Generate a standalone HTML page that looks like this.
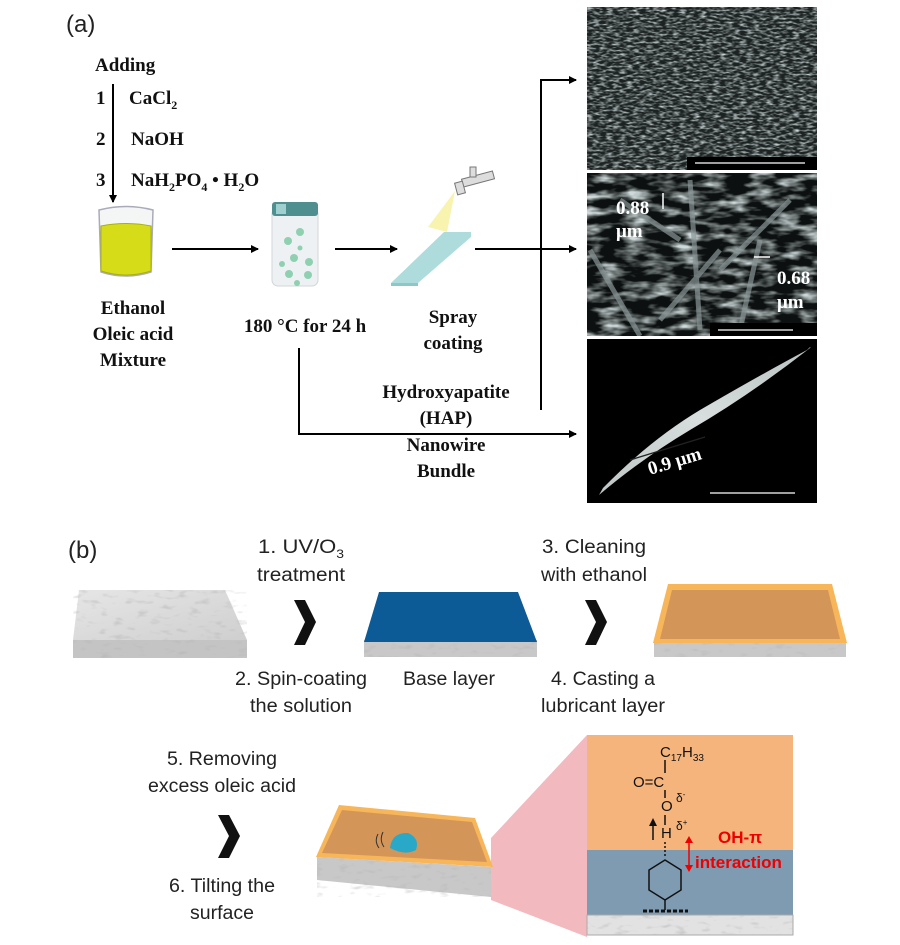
<!DOCTYPE html>
<html><head><meta charset="utf-8"><style>
html,body{margin:0;padding:0;background:#fff}
svg{display:block}
.s{font-family:"Liberation Serif",serif;font-weight:bold;font-size:19px;fill:#111}
.a{font-family:"Liberation Sans",sans-serif;font-size:19px;fill:#222}
</style></head><body>
<svg width="900" height="945" viewBox="0 0 900 945" xmlns="http://www.w3.org/2000/svg">
<defs>
<marker id="ah" markerWidth="8" markerHeight="8" refX="7" refY="4" orient="auto" markerUnits="userSpaceOnUse"><path d="M0,0 L8,4 L0,8 z" fill="#000"/></marker>
<filter id="noise" x="0" y="0" width="100%" height="100%"><feTurbulence type="fractalNoise" baseFrequency="0.15 0.5" numOctaves="2" seed="3"/><feColorMatrix type="matrix" values="0 0 0 0 0.6  0 0 0 0 0.68  0 0 0 0 0.68  0 0 0 2.2 -0.9"/></filter>
<filter id="noise2" x="0" y="0" width="100%" height="100%"><feTurbulence type="fractalNoise" baseFrequency="0.04 0.12" numOctaves="3" seed="7"/><feColorMatrix type="matrix" values="0 0 0 0 0.62  0 0 0 0 0.7  0 0 0 0 0.7  0 0 0 2.4 -1.0"/></filter>
<filter id="marb" x="0" y="0" width="100%" height="100%"><feTurbulence type="fractalNoise" baseFrequency="0.08 0.2" numOctaves="2" seed="5"/><feColorMatrix type="matrix" values="0 0 0 0 0.45  0 0 0 0 0.45  0 0 0 0 0.45  0 0 0 1.6 -0.9"/></filter>
<linearGradient id="mg" x1="0" y1="0" x2="1" y2="1"><stop offset="0" stop-color="#e6e6e6"/><stop offset="1" stop-color="#cfcfcf"/></linearGradient>
<linearGradient id="hapg" x1="0" y1="1" x2="1" y2="0"><stop offset="0" stop-color="#bfc6c6"/><stop offset=".5" stop-color="#d8dede"/><stop offset="1" stop-color="#b9c2c2"/></linearGradient>
<clipPath id="c1"><rect x="587" y="7" width="230" height="163"/></clipPath>
<clipPath id="c2"><rect x="587" y="173" width="230" height="163"/></clipPath>
</defs>

<!-- (a) -->
<text x="66" y="32" font-family="Liberation Sans,sans-serif" font-size="24" fill="#222">(a)</text>
<text class="s" x="95" y="71">Adding</text>
<line x1="113" y1="84" x2="113" y2="202" stroke="#000" stroke-width="2" marker-end="url(#ah)"/>
<text class="s" x="96" y="104">1</text><text class="s" x="129" y="104">CaCl<tspan font-size="12" dy="5">2</tspan></text>
<text class="s" x="96" y="145">2</text><text class="s" x="131" y="145">NaOH</text>
<text class="s" x="96" y="186">3</text><text class="s" x="131" y="186">NaH<tspan font-size="12" dy="5">2</tspan><tspan dy="-5">PO</tspan><tspan font-size="12" dy="5">4</tspan><tspan dy="-5"> • H</tspan><tspan font-size="12" dy="5">2</tspan><tspan dy="-5">O</tspan></text>

<!-- beaker -->
<path d="M99,210 Q126,203 153,210 L151,272 Q126,280 101,272 Z" fill="#f4f6f6" stroke="#aab" stroke-width="1.5"/>
<path d="M101,226 Q126,221 151,226 L151,271 Q126,279 101,271 Z" fill="#d6dc18" stroke="#a8b010"/>
<!-- bottle -->
<rect x="272" y="208" width="46" height="78" rx="6" fill="#eef1f3" stroke="#d0d6d8"/>
<rect x="272" y="202" width="46" height="14" rx="3" fill="#4f8f8f"/>
<rect x="276" y="204" width="10" height="10" fill="#9fd0d0"/>
<g fill="#8fd0b0"><circle cx="300" cy="232" r="4"/><circle cx="288" cy="241" r="4"/><circle cx="300" cy="248" r="2.5"/><circle cx="294" cy="258" r="4"/><circle cx="309" cy="262" r="4"/><circle cx="282" cy="264" r="3"/><circle cx="289" cy="274" r="4"/><circle cx="308" cy="275" r="4"/><circle cx="297" cy="283" r="3"/></g>
<!-- arrows row -->
<line x1="172" y1="249" x2="258" y2="249" stroke="#000" stroke-width="2" marker-end="url(#ah)"/>
<line x1="335" y1="249" x2="397" y2="249" stroke="#000" stroke-width="2" marker-end="url(#ah)"/>
<!-- spray + slide -->
<path d="M455,191 L428,227 L447,232 Z" fill="#f7f1a0" opacity=".85"/>
<g stroke="#777" fill="#ddd"><rect x="462" y="175" width="32" height="8" transform="rotate(-15 478 179)"/><rect x="456" y="182" width="8" height="12" transform="rotate(-15 460 188)"/><rect x="470" y="167" width="6" height="10"/></g>
<polygon points="391,283 418,283 471,237 471,232 444,232" fill="#aedcdc"/>
<polygon points="391,283 418,283 418,286 391,286" fill="#8cc8c8"/>
<line x1="475" y1="249" x2="576" y2="249" stroke="#000" stroke-width="2" marker-end="url(#ah)"/>
<polyline points="541,410 541,80 576,80" fill="none" stroke="#000" stroke-width="2" marker-end="url(#ah)"/>
<polyline points="299,348 299,434 576,434" fill="none" stroke="#000" stroke-width="2" marker-end="url(#ah)"/>

<g class="s" text-anchor="middle">
<text x="133" y="314">Ethanol</text><text x="133" y="340">Oleic acid</text><text x="133" y="366">Mixture</text>
<text x="305" y="332">180 °C for 24 h</text>
<text x="453" y="323">Spray</text><text x="453" y="349">coating</text>
<text x="446" y="398">Hydroxyapatite</text><text x="446" y="424">(HAP)</text><text x="446" y="451">Nanowire</text><text x="446" y="477">Bundle</text>
</g>

<!-- SEM 1 -->
<rect x="587" y="7" width="230" height="163" fill="#1c2222"/>
<rect x="587" y="7" width="230" height="163" filter="url(#noise)" clip-path="url(#c1)"/>
<rect x="687" y="157" width="130" height="13" fill="#000"/>
<line x1="695" y1="163" x2="805" y2="163" stroke="#fff" stroke-width="1.2"/>
<!-- SEM 2 -->
<rect x="587" y="173" width="230" height="163" fill="#0c1010"/>
<rect x="587" y="173" width="230" height="163" filter="url(#noise2)" clip-path="url(#c2)"/>
<g stroke="#8a9696" stroke-width="5" opacity=".7" clip-path="url(#c2)">
<line x1="590" y1="250" x2="640" y2="336"/><line x1="690" y1="180" x2="700" y2="330"/><line x1="660" y1="320" x2="720" y2="250"/><line x1="720" y1="270" x2="790" y2="200"/><line x1="740" y1="330" x2="760" y2="240"/><line x1="620" y1="200" x2="680" y2="240"/>
</g>
<rect x="710" y="323" width="107" height="13" fill="#000"/>
<line x1="718" y1="330" x2="793" y2="330" stroke="#fff" stroke-width="1.2"/>
<g class="s" fill="#fff" style="fill:#fff"><text x="616" y="214">0.88</text><text x="616" y="237">μm</text><text x="777" y="284">0.68</text><text x="777" y="308">μm</text></g>
<g stroke="#fff" stroke-width="1.5"><line x1="663" y1="193" x2="663" y2="209"/><line x1="754" y1="257" x2="770" y2="257"/></g>
<!-- SEM 3 -->
<rect x="587" y="339" width="230" height="164" fill="#000"/>
<path d="M599,495 Q640,460 690,430 Q750,395 810,348 Q812,345 807,350 Q760,375 700,410 Q650,440 603,488 Z" fill="url(#hapg)"/>
<line x1="630" y1="460" x2="705" y2="437" stroke="#222" stroke-width="1.3"/>
<text class="s" x="650" y="475" transform="rotate(-17 650 475)" style="fill:#fff">0.9 μm</text>
<line x1="710" y1="493" x2="795" y2="493" stroke="#fff" stroke-width="1.2"/>

<!-- (b) -->
<text x="68" y="558" font-family="Liberation Sans,sans-serif" font-size="24" fill="#222">(b)</text>
<g class="a" text-anchor="middle">
<text x="301" y="553" textLength="86" lengthAdjust="spacingAndGlyphs">1. UV/O<tspan font-size="12" dy="5">3</tspan></text>
<text x="301" y="581" textLength="88" lengthAdjust="spacingAndGlyphs">treatment</text>
<text x="594" y="553" textLength="104" lengthAdjust="spacingAndGlyphs">3. Cleaning</text>
<text x="594" y="581" textLength="106" lengthAdjust="spacingAndGlyphs">with ethanol</text>
<text x="301" y="685" textLength="132" lengthAdjust="spacingAndGlyphs">2. Spin-coating</text>
<text x="301" y="712" textLength="102" lengthAdjust="spacingAndGlyphs">the solution</text>
<text x="449" y="685" textLength="92" lengthAdjust="spacingAndGlyphs">Base layer</text>
<text x="603" y="685" textLength="104" lengthAdjust="spacingAndGlyphs">4. Casting a</text>
<text x="603" y="712" textLength="124" lengthAdjust="spacingAndGlyphs">lubricant layer</text>
<text x="222" y="765" textLength="110" lengthAdjust="spacingAndGlyphs">5. Removing</text>
<text x="222" y="792" textLength="148" lengthAdjust="spacingAndGlyphs">excess oleic acid</text>
<text x="222" y="892" textLength="106" lengthAdjust="spacingAndGlyphs">6. Tilting the</text>
<text x="222" y="919" textLength="64" lengthAdjust="spacingAndGlyphs">surface</text>
</g>
<!-- plate 1 -->
<polygon points="79,590 225,590 247,640 73,640" fill="url(#mg)"/>
<rect x="73" y="640" width="174" height="18" fill="#c4c4c4"/>
<polygon points="79,590 225,590 247,640 73,640" filter="url(#marb)"/>
<rect x="73" y="640" width="174" height="18" filter="url(#marb)"/>
<!-- chevrons -->
<path d="M294,600 L305,600 L316,622 L305,645 L294,645 L305,622 Z" fill="#111"/>
<path d="M585,600 L596,600 L607,622 L596,645 L585,645 L596,622 Z" fill="#111"/>
<path d="M218,815 L229,815 L240,836 L229,858 L218,858 L229,836 Z" fill="#111"/>
<!-- blue plate -->
<rect x="364" y="640" width="173" height="17" fill="#c8c8c8"/>
<rect x="364" y="640" width="173" height="17" filter="url(#marb)"/>
<polygon points="379,592 518,592 537,642 364,642" fill="#0c5a96"/>
<!-- orange plate -->
<rect x="654" y="640" width="192" height="17" fill="#c8c8c8"/>
<rect x="654" y="640" width="192" height="17" filter="url(#marb)"/>
<polygon points="668,584 832,584 847,643 653,643" fill="#f7b659"/>
<polygon points="672,590 828,590 840,639 660,639" fill="#d49559"/>
<!-- pink wedge -->
<polygon points="491,838 587,735 587,937 491,900" fill="#f2b9bf"/>
<!-- tilted plate -->
<polygon points="317,857 491,867 491,897 317,880" fill="#c8c8c8"/>
<polygon points="317,857 491,867 491,897 317,880" filter="url(#marb)"/>
<polygon points="339,805 475,818 493,867 316,857" fill="#f7b659"/>
<polygon points="342,810 472,822 487,862 322,853" fill="#d49559"/>
<path d="M390,848 Q392,832 408,833 Q420,838 416,850 Q405,856 390,848 Z" fill="#2aa8c8"/>
<path d="M378,834 Q374,841 379,848 M383,832 Q379,840 384,847" stroke="#333" fill="none" stroke-width="1"/>
<!-- zoom box -->
<rect x="587" y="735" width="206" height="115" fill="#f4b47c"/>
<rect x="587" y="850" width="206" height="65" fill="#7e9bb2"/>
<rect x="587" y="915" width="206" height="20" fill="#e2e2e2" stroke="#aaa"/>
<rect x="587" y="915" width="206" height="20" filter="url(#marb)"/>
<g font-family="Liberation Sans,sans-serif" font-size="15" fill="#111">
<text x="660" y="757">C<tspan font-size="10" dy="4">17</tspan><tspan dy="-4">H</tspan><tspan font-size="10" dy="4">33</tspan></text>
<text x="633" y="787">O=C</text>
<text x="661" y="811">O</text>
<text x="661" y="838">H</text>
<text x="676" y="802" font-size="12">δ<tspan font-size="8" dy="-5">-</tspan></text>
<text x="676" y="830" font-size="12">δ<tspan font-size="8" dy="-5">+</tspan></text>
</g>
<g stroke="#111" stroke-width="1.5" fill="none">
<line x1="665" y1="760" x2="665" y2="773"/><line x1="665" y1="790" x2="665" y2="798"/><line x1="665" y1="815" x2="665" y2="825"/>
<line x1="653" y1="840" x2="653" y2="823"/>
<polygon points="665,860 681,870 681,890 665,900 649,890 649,870"/>
<line x1="665" y1="900" x2="665" y2="910"/>
<line x1="665" y1="842" x2="665" y2="858" stroke-dasharray="2 2"/>
<line x1="643" y1="911" x2="688" y2="911" stroke-width="3" stroke-dasharray="4 2"/>
</g>
<path d="M653,818 L649,826 L657,826 Z" fill="#111"/>
<line x1="689" y1="840" x2="689" y2="868" stroke="#e00" stroke-width="1.5"/>
<path d="M689,836 L685,843 L693,843 Z M689,872 L685,865 L693,865 Z" fill="#e00"/>
<text x="718" y="843" font-family="Liberation Sans,sans-serif" font-weight="bold" font-size="17" fill="#e00">OH-π</text>
<text x="695" y="868" font-family="Liberation Sans,sans-serif" font-weight="bold" font-size="17" fill="#e00">interaction</text>
</svg>
</body></html>
